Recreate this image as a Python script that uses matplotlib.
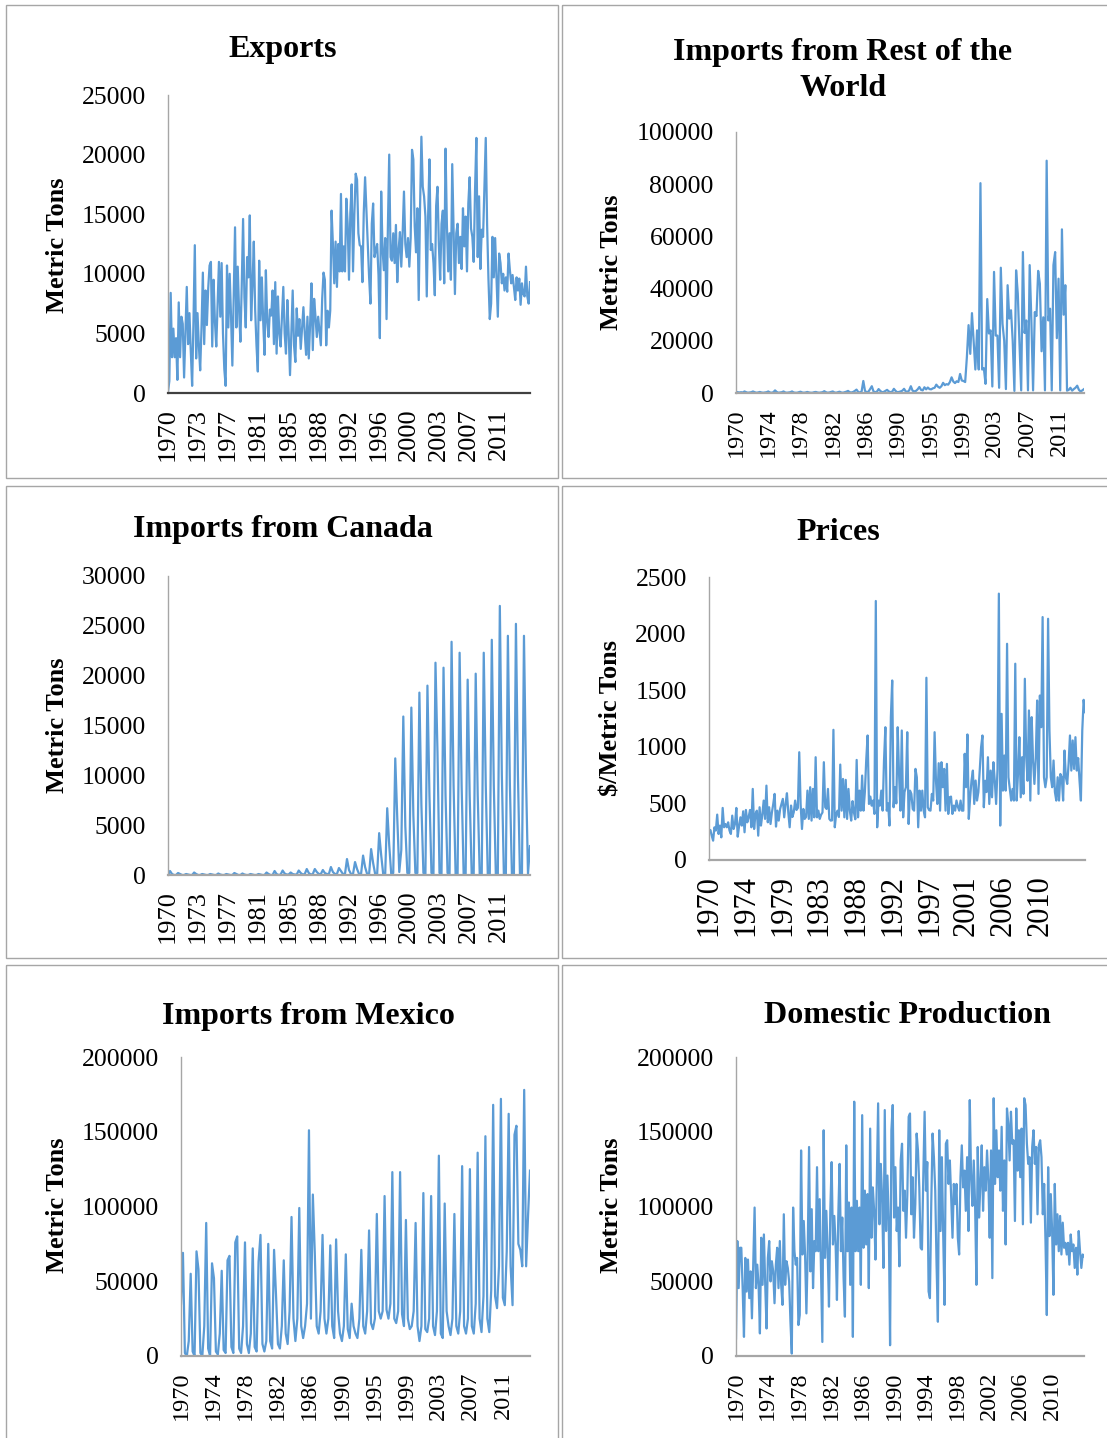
import numpy as np
import matplotlib.pyplot as plt
from matplotlib.patches import Rectangle

plt.rcParams['font.family'] = ['Liberation Serif', 'DejaVu Serif']

W, H = 1107, 1438
BLUE = '#5B9BD5'
GREY = '#A6A6A6'

# --- data: series start Jan 1970, values in thousands (prices in $/t) ---

# exports, six readings per year
exports_k = [
    0.1, 1.0, 8.4, 3.0, 5.4, 3.0,     4.6, 1.1, 7.6, 3.0, 6.4, 5.8,
    1.3, 5.0, 8.9, 4.1, 6.7, 3.5,     0.6, 6.0, 12.4, 2.9, 6.7, 4.0,
    1.9, 5.5, 10.1, 4.1, 8.6, 5.7,    8.8, 10.7, 11.0, 3.9, 9.5, 6.0,
    3.9, 7.5, 11.0, 6.4, 10.9, 5.0,   2.0, 0.6, 10.7, 5.5, 10.0, 6.5,
    2.3, 8.0, 13.9, 5.5, 10.6, 7.0,   4.3, 9.0, 14.6, 8.0, 5.5, 11.4,
    9.7, 14.9, 6.1, 9.0, 12.7, 7.0,   4.0, 1.8, 11.1, 6.1, 9.7, 6.0,
    3.2, 10.3, 6.0, 4.7, 7.0, 6.5,    8.6, 4.1, 9.3, 3.3, 8.1, 5.0,
    3.9, 6.5, 8.9, 5.0, 3.3, 7.8,     5.0, 1.5, 5.0, 8.6, 4.0, 2.6,
    7.1, 4.8, 6.2, 3.7, 5.5, 7.2,     5.0, 3.2, 6.4, 2.9, 5.8, 9.2,
    3.6, 7.9, 6.4, 4.7, 6.4, 5.2,     4.0, 7.9, 10.1, 9.5, 4.0, 6.9,
    5.5, 6.9, 15.3, 12.5, 9.2, 12.7,  8.9, 12.5, 10.2, 16.7, 10.2, 12.3,
    10.2, 16.3, 14.2, 9.5, 15.1, 17.5, 10.2, 15.0, 18.4, 17.9, 13.4, 12.4,
    12.3, 9.3, 15.1, 18.1, 15.3, 12.3, 9.7, 7.5, 14.2, 15.9, 11.4, 12.0,
    12.5, 9.9, 4.6, 16.9, 12.1, 10.3, 13.0, 6.2, 13.9, 20.0, 11.4, 11.1,
    13.4, 10.9, 14.1, 9.3, 12.0, 13.5, 10.6, 13.4, 16.9, 12.5, 11.4, 13.0,
    10.6, 13.0, 20.4, 19.6, 14.0, 11.8, 15.5, 7.8, 15.6, 21.5, 17.3, 16.5,
    14.8, 8.1, 14.8, 19.6, 12.0, 12.5, 10.9, 8.2, 15.7, 17.3, 12.5, 9.5,
    14.2, 15.3, 9.2, 20.5, 14.2, 10.2, 13.4, 9.5, 19.2, 13.7, 8.3, 13.4,
    14.2, 10.9, 13.1, 10.4, 15.5, 12.3, 14.8, 10.2, 15.9, 18.1, 13.8, 13.1,
    11.0, 17.0, 21.4, 11.4, 16.5, 10.4, 13.7, 13.1, 17.3, 21.4, 14.2, 9.6,
    6.2, 7.5, 13.1, 9.7, 13.0, 9.7,   6.4, 11.7, 10.9, 9.2, 10.0, 8.6,
    9.7, 8.5, 11.7, 10.3, 9.2, 9.9,   8.9, 7.8, 9.7, 8.6, 9.6, 7.4,
    9.2, 8.3, 8.1, 10.6, 8.1, 7.5,    9.3,
]

# imports from the rest of the world
rest_world_k = [
    0.5, 0.3, 0.2, 0.3, 0.2, 0.6, 0.3, 0.1, 0.2, 0.3, 0.6, 0.3, 0.1, 0.2, 0.4, 0.2, 0.1, 0.2, 0.3, 0.6,
    0.2, 0.1, 0.3, 1.0, 0.4, 0.1, 0.2, 0.3, 0.6, 0.2, 0.1, 0.2, 0.3, 0.6, 0.2, 0.1, 0.1, 0.3, 0.5, 0.2,
    0.1, 0.2, 0.4, 0.2, 0.1, 0.1, 0.3, 0.4, 0.2, 0.1, 0.2, 0.3, 0.7, 0.3, 0.1, 0.2, 0.4, 0.6, 0.2, 0.1,
    0.3, 0.5, 0.2, 0.1, 0.3, 0.5, 0.8, 0.3, 0.2, 0.4, 0.8, 1.3, 0.4, 0.2,
    0.6, 4.6, 0.8, 0.3, 0.5, 1.5, 2.6, 0.6, 0.3, 0.5, 1.5, 0.8, 0.3, 0.4, 0.8, 1.2, 0.6, 0.3, 0.5, 1.6,
    0.8, 0.3, 0.4, 0.6, 0.9, 1.6, 0.6, 0.4, 1.0, 2.6, 0.9, 0.6, 0.8, 1.4, 2.3, 1.2, 1.0, 2.2, 1.4, 2.1,
    1.5, 1.4, 1.8, 2.0, 3.2, 2.4, 2.0, 2.6, 3.9, 3.0, 3.4, 3.2, 4.2, 6.0, 4.4, 3.8, 4.5, 4.2, 7.3, 4.8,
    4.6, 4.2,
    13.7, 26.0, 15.0, 30.6, 20.0, 9.0, 24.0, 9.0, 80.4, 9.0, 9.5, 3.5, 36.0, 22.8, 24.0, 2.5,
    46.4, 22.0, 22.0, 2.0, 48.0, 26.5, 20.0, 1.5, 41.3, 28.5, 31.7, 20.0, 0.8, 47.0, 38.0, 18.8,
    1.0, 54.0, 23.0, 27.8, 1.0, 49.0, 27.8, 1.0, 31.0, 29.5, 46.8, 41.9, 16.0, 29.0, 1.0, 89.0,
    27.8, 32.3, 1.0, 49.0, 54.0, 21.0, 43.8, 1.0, 62.7, 30.0, 41.3, 0.9, 1.2, 2.0, 0.9, 1.5,
    2.0, 2.8, 1.2, 0.6, 1.0, 1.5,
]

# imports from Canada, quarterly
canada_k = [
    0.0, 0.4, 0.1, 0.0,    0.0, 0.2, 0.1, 0.0,    0.0, 0.1, 0.05, 0.0,   0.0, 0.25, 0.1, 0.0,
    0.0, 0.1, 0.05, 0.0,   0.0, 0.1, 0.05, 0.0,   0.0, 0.15, 0.05, 0.0,  0.0, 0.1, 0.05, 0.0,
    0.0, 0.2, 0.1, 0.0,    0.0, 0.15, 0.05, 0.0,  0.0, 0.1, 0.05, 0.0,   0.0, 0.1, 0.05, 0.0,
    0.0, 0.25, 0.1, 0.0,   0.0, 0.4, 0.1, 0.0,    0.05, 0.45, 0.15, 0.05, 0.05, 0.25, 0.1, 0.05,
    0.05, 0.45, 0.2, 0.05, 0.1, 0.6, 0.2, 0.05,   0.1, 0.6, 0.3, 0.1,    0.1, 0.5, 0.2, 0.1,
    0.1, 0.8, 0.3, 0.1,    0.1, 0.7, 0.4, 0.1,    0.1, 1.6, 0.5, 0.1,    0.1, 1.3, 0.6, 0.1,
    0.1, 1.95, 0.8, 0.1,   0.1, 2.6, 1.2, 0.1,    0.1, 4.2, 2.0, 0.1,    0.1, 6.7, 3.0, 0.1,
    0.2, 11.7, 5.7, 0.3,   2.5, 15.9, 4.9, 0.2,   0.2, 16.8, 6.0, 0.2,   0.2, 18.3, 7.0, 0.2,
    0.1, 19.0, 8.0, 0.2,   0.1, 21.3, 12.3, 0.2,  0.1, 20.8, 8.0, 0.2,   0.1, 23.4, 9.0, 0.1,
    0.1, 22.3, 9.0, 0.1,   0.1, 19.6, 8.0, 0.1,   0.1, 20.2, 8.0, 0.1,   0.1, 22.3, 9.0, 0.1,
    0.1, 23.6, 9.0, 0.1,   0.1, 27.0, 10.0, 0.1,  0.1, 24.0, 9.0, 0.1,   0.1, 25.2, 10.0, 0.1,
    0.1, 24.0, 10.0, 0.1,  2.9,
]

# prices, $ per metric ton, six readings per year
prices = [
    245, 265, 215, 171, 289, 260,    401, 230, 304, 200, 460, 289,
    318, 289, 333, 260, 230, 392,    274, 318, 460, 206, 300, 377,
    304, 430, 245, 442, 333, 380,    442, 289, 628, 274, 407, 436,
    215, 466, 304, 400, 525, 363,    657, 333, 466, 318, 420, 495,
    584, 295, 436, 348, 450, 495,    540, 377, 495, 590, 420, 289,
    481, 380, 422, 525, 442, 460,    952, 495, 274, 451, 363, 380,
    613, 363, 643, 348, 628, 377,    908, 377, 436, 363, 400, 420,
    864, 466, 451, 628, 363, 348,    350, 1150, 289, 407, 436, 380,
    843, 436, 716, 377, 708, 363,    628, 436, 348, 520, 420, 360,
    884, 377, 613, 436, 746, 436,    600, 884, 1100, 495, 560, 480,
    525, 407, 2288, 289, 525, 481,   613, 436, 879, 1173, 436, 500,
    304, 1262, 1586, 466, 643, 500,  1173, 761, 436, 1144, 377, 600,
    643, 1129, 318, 613, 584, 450,   436, 805, 731, 289, 613, 436,
    613, 436, 377, 1610, 466, 440,   436, 584, 525, 1129, 700, 495,
    855, 436, 864, 643, 805, 436,    849, 407, 554, 560, 407, 481,
    436, 525, 470, 436, 525, 436,    436, 938, 643, 1109, 363, 554,
    702, 790, 495, 702, 525, 600,    790, 996, 1100, 466, 700, 600,
    908, 495, 790, 554, 864, 702,    495, 800, 2353, 304, 1291, 613,
    923, 613, 1910, 731, 628, 525,   628, 525, 1734, 525, 761, 1085,
    554, 908, 584, 1601, 908, 700,   1321, 525, 1262, 879, 672, 900,
    1409, 584, 1453, 1173, 2146, 731, 643, 731, 2131, 1144, 731, 643,
    879, 600, 525, 731, 525, 760,    731, 525, 967, 731, 672, 849,
    1100, 790, 1056, 805, 1085, 790, 900, 700, 525, 1144, 1415, 1306,
]

# imports from Mexico, quarterly
mexico_k = [
    35, 69, 2, 0,     10, 55, 3, 0,     70, 58, 2, 0,     20, 89, 5, 0,
    62, 52, 3, 1,     15, 57, 4, 2,     64, 67, 6, 2,     76, 80, 5, 2,
    20, 76, 8, 2,     15, 72, 6, 3,     63, 81, 8, 3,     10, 75, 10, 5,
    71, 41, 8, 5,     20, 64, 15, 8,    30, 93, 25, 10,   25, 99, 20, 12,
    20, 35, 151, 25,  108, 69, 20, 15,  30, 81, 25, 15,   25, 74, 20, 12,
    78, 30, 15, 10,   20, 68, 18, 12,   35, 20, 15, 12,   25, 71, 20, 15,
    30, 84, 22, 18,   25, 95, 30, 25,   30, 107, 31, 25,  35, 123, 25, 22,
    30, 123, 28, 20,  91, 25, 18, 20,   30, 89, 20, 10,   20, 109, 18, 16,
    25, 107, 20, 14,  30, 134, 15, 12,  102, 30, 20, 14,  25, 95, 20, 15,
    30, 127, 20, 15,  25, 125, 20, 15,  35, 136, 25, 16,  40, 147, 25, 16,
    44, 168, 40, 32,  60, 172, 39, 34,  70, 162, 60, 34,  148, 154, 75, 71,
    60, 178, 60, 94,  124,
]

# domestic production
domestic_k = [
    11.7, 76.9, 45.4, 72.4, 72.4, 45.4, 12.8, 65.6, 43.1, 64.5, 38.7, 56.6, 25.2, 61.1, 99.3, 45.4,
    61.1, 47.6, 15.1, 79.1, 47.6, 81.3, 47.6, 18.4, 65.6, 76.9, 49.9, 63.4, 56.6, 35.3, 61.1, 72.4,
    45.4, 76.9, 47.6, 34.2, 94.8, 47.6, 63.4, 58.9, 49.9, 22.9, 1.6, 99.3, 70.1, 61.1, 65.6, 20.7,
    27.4, 137.5, 67.9, 90.3, 67.9, 28.5, 70.1, 139.8, 56.6, 98.2, 45.4, 76.9, 70.1, 126.3, 70.1, 104.9,
    58.9, 9.4, 151.0, 65.6, 97.1, 70.1, 33.0, 97.1, 129.7, 74.6, 93.7, 74.6, 37.5, 93.7, 128.5, 70.1,
    92.6, 52.1, 26.3, 140.9, 70.1, 102.7, 47.6, 99.3, 12.8, 170.1, 70.1, 103.8, 70.1, 99.3, 47.6, 161.1,
    72.4, 110.6, 74.6, 108.3, 45.4, 152.1, 79.1, 112.8, 97.1, 64.5, 115.1, 169.0, 88.1, 128.5, 106.1, 58.9,
    164.5, 83.6, 120.7, 90.3, 7.2, 151.0, 167.9, 92.6, 126.3, 83.6, 99.3, 60.0, 130.8, 142.0, 97.1, 110.6,
    79.1, 108.3, 160.0, 162.2, 94.8, 119.6, 79.1, 101.6, 148.8, 137.5, 112.8, 72.4, 71.2, 119.6, 163.4, 110.6,
    129.7, 43.1, 38.7, 101.6, 148.8, 133.0, 110.6, 61.1, 22.9, 151.0, 83.6, 133.0, 81.3, 34.2, 142.0, 144.3,
    115.1, 130.8, 106.1, 79.1, 115.1, 101.6, 115.1, 79.1, 67.9, 119.6, 140.9, 112.8, 124.0, 97.1, 133.0, 83.6,
    171.2, 119.6, 100.4, 130.8, 101.6, 47.6, 139.8, 92.6, 115.1, 140.9, 97.1, 126.3, 110.6, 137.5, 117.3, 79.1,
    137.5, 52.1, 172.4, 115.1, 151.0, 119.6, 137.5, 110.6, 153.3, 97.1, 130.8, 74.6, 165.6, 155.5, 130.8, 163.4,
    142.0, 144.3, 90.3, 165.6, 124.0, 151.0, 119.6, 152.1, 88.1, 172.4, 167.9, 142.0, 128.5, 133.0, 89.2, 139.8,
    151.0, 128.5, 139.8, 94.8, 140.9, 144.3, 133.0, 94.8, 115.1, 76.9, 27.4, 126.3, 80.2, 108.3, 83.6, 40.9,
    115.1, 74.6, 94.8, 70.1, 93.7, 67.9, 89.2, 72.4, 75.7, 67.9, 75.7, 61.1, 81.3, 70.1, 74.6, 58.9,
    72.4, 54.4, 83.6, 70.1, 58.9, 67.9, 66.7,
]

# category-axis labels shown under each chart
years_45 = ['1970', '1973', '1977', '1981', '1985', '1988', '1992', '1996', '2000', '2003', '2007', '2011']
years_50 = ['1970', '1974', '1978', '1982', '1986', '1990', '1995', '1999', '2003', '2007', '2011']
years_54 = ['1970', '1974', '1979', '1983', '1988', '1992', '1997', '2001', '2006', '2010']
years_48 = ['1970', '1974', '1978', '1982', '1986', '1990', '1994', '1998', '2002', '2006', '2010']

fig = plt.figure(figsize=(W / 100, H / 100), dpi=100)

# full-size pixel canvas for frames and text
bg = fig.add_axes([0, 0, 1, 1])
bg.set_xlim(0, W)
bg.set_ylim(H, 0)
bg.axis('off')

for x0, y0, x1, y1 in [(6, 5, 558, 478), (562, 5, W + 5, 478),
                       (6, 486, 558, 958), (562, 486, W + 5, 958),
                       (6, 965, 558, H + 5), (562, 965, W + 5, H + 5)]:
    bg.add_patch(Rectangle((x0, y0), x1 - x0, y1 - y0, fill=False, ec=GREY, lw=1))


def panel(box, values, scale, months, ymax, ystep, labels, every, xsize,
          title, title_y, title_x, ylabel, ylabel_x, ylabel_y, base_color=GREY):
    left, top, right, bottom = box
    ax = fig.add_axes([left / W, 1 - bottom / H, (right - left) / W, (bottom - top) / H])
    ax.patch.set_alpha(0)
    y = np.array(values, dtype=float) * scale
    x = np.linspace(0, months, len(y))
    ax.plot(x, y, color=BLUE, lw=1.6, solid_joinstyle='round')
    ax.set_xlim(0, months)
    ax.set_ylim(0, ymax)
    yt = np.arange(0, ymax + 1, ystep)
    ax.set_yticks(yt)
    ax.set_yticklabels([str(int(v)) for v in yt], fontsize=18.5)
    ax.set_xticks(np.arange(len(labels)) * every)
    ax.set_xticklabels(labels, rotation=90, fontsize=xsize)
    ax.tick_params(axis='y', length=0, pad=16)
    ax.tick_params(axis='x', length=0, pad=11)
    for s in ('top', 'right'):
        ax.spines[s].set_visible(False)
    ax.spines['left'].set_color(GREY)
    ax.spines['left'].set_linewidth(1)
    ax.spines['bottom'].set_color(base_color)
    ax.spines['bottom'].set_linewidth(1.6)
    for i, line in enumerate(title):
        bg.text(title_x, title_y + 36 * i, line, ha='center', va='baseline',
                fontsize=23, fontweight='bold')
    bg.text(ylabel_x, ylabel_y, ylabel, rotation=90, ha='center', va='center',
            fontsize=19, fontweight='bold')
    return ax


panel((168, 95, 530, 393), exports_k, 1000, 542, 25000, 5000, years_45, 45, 19,
      ['Exports'], 57, 283, 'Metric Tons', 57, 245, base_color='#404040')
panel((736, 132, 1084, 393), rest_world_k, 1000, 538, 100000, 20000, years_50, 50, 17.5,
      ['Imports from Rest of the', 'World'], 60, 843, 'Metric Tons', 611, 262)
panel((168, 576, 530, 875), canada_k, 1000, 542, 30000, 5000, years_45, 45, 19,
      ['Imports from Canada'], 537, 283, 'Metric Tons', 57, 725)
panel((709, 577, 1085, 860), prices, 1, 552, 2500, 500, years_54, 54, 22,
      ['Prices'], 540, 838, r'\$/Metric Tons', 611, 718)
panel((181, 1057, 530, 1356), mexico_k, 1000, 542, 200000, 50000, years_50, 50, 17.5,
      ['Imports from Mexico'], 1024, 308, 'Metric Tons', 57, 1205)
panel((736, 1057, 1084, 1356), domestic_k, 1000, 528, 200000, 50000, years_48, 48, 17.5,
      ['Domestic Production'], 1023, 907, 'Metric Tons', 611, 1205)

fig.savefig('out.png', dpi=100)
